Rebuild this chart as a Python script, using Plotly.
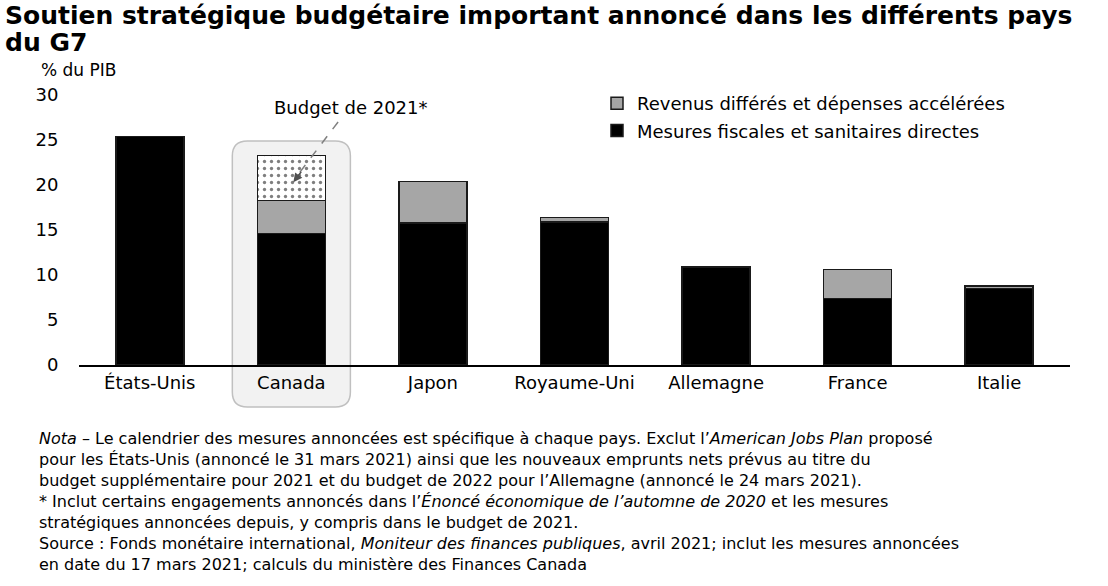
import plotly.graph_objects as go

countries = ["États-Unis", "Canada", "Japon", "Royaume-Uni", "Allemagne", "France", "Italie"]
direct = [25.4, 14.6, 15.8, 15.9, 10.9, 7.4, 8.5]
deferred = [0, 3.7, 4.6, 0.5, 0, 3.2, 0.3]
budget2021 = [None, 5.0, None, None, None, None, None]
yticks = [0, 5, 10, 15, 20, 25, 30]

name_direct = "Mesures fiscales et sanitaires directes"
name_deferred = "Revenus différés et dépenses accélérées"

FONT = "DejaVu Sans"
W, H = 1108, 586
L, R, T, B = 79, 38, 95, 221
PW, PH = W - L - R, H - T - B

def px2paper_x(px):
    return (px - L) / PW

def px2paper_y(py):
    return (H - B - py) / PH

fig = go.Figure()
fig.add_trace(go.Bar(x=countries, y=direct, name=name_direct, legendgroup="a", legendrank=2,
                     marker=dict(color="#000000", line=dict(color="#1a1a1a", width=1.5)),
                     width=0.48))
fig.add_trace(go.Bar(x=countries, y=deferred, name=name_deferred, legendgroup="b", legendrank=1,
                     marker=dict(color="#a6a6a6", line=dict(color="#1a1a1a", width=1.5)),
                     width=0.48))
fig.add_trace(go.Bar(x=countries, y=budget2021, name="Budget de 2021*", showlegend=False,
                     marker=dict(color="#ffffff", line=dict(color="#1a1a1a", width=1.5),
                                 pattern=dict(shape=".", fgcolor="#000000", bgcolor="#ffffff",
                                              size=7, solidity=0.18)),
                     width=0.48))

# Canada highlight rounded box (x in data, y in paper)
x0, x1 = 1 - 0.417, 1 + 0.417
y0, y1 = px2paper_y(407), px2paper_y(141)
rx, ry = 15 / (PW / 7), 15 / PH
path = (f"M {x0+rx},{y0} L {x1-rx},{y0} Q {x1},{y0} {x1},{y0+ry} "
        f"L {x1},{y1-ry} Q {x1},{y1} {x1-rx},{y1} L {x0+rx},{y1} Q {x0},{y1} {x0},{y1-ry} "
        f"L {x0},{y0+ry} Q {x0},{y0} {x0+rx},{y0} Z")
fig.add_shape(type="path", path=path, xref="x", yref="paper", layer="below",
              fillcolor="#f2f2f2", line=dict(color="#c0c0c0", width=1.5))

# dashed pointer
fig.add_shape(type="line", xref="x", yref="y", x0=1.33, y0=27.0, x1=1.03, y1=20.8,
              line=dict(color="#808080", width=1.5, dash="dash"))
fig.add_annotation(x=1.014, y=20.3, xref="x", yref="y", text="", showarrow=True,
                   arrowhead=2, arrowsize=1.2, arrowwidth=1.5, arrowcolor="#505050",
                   ax=9, ay=-12)
fig.add_annotation(x=1.424, y=28.6, xref="x", yref="y", text="Budget de 2021*", showarrow=False,
                   font=dict(family=FONT, size=18, color="#000000"))

fig.add_annotation(x=px2paper_x(39), y=px2paper_y(70), xref="paper", yref="paper",
                   xanchor="left", yanchor="middle", text="% du PIB", showarrow=False,
                   font=dict(family=FONT, size=17, color="#000000"))

title_lines = [
    (15, "<b>Soutien stratégique budgétaire important annoncé dans les différents pays</b>"),
    (43, "<b>du G7</b>"),
]
for py, txt in title_lines:
    fig.add_annotation(x=px2paper_x(3), y=px2paper_y(py), xref="paper", yref="paper",
                       xanchor="left", yanchor="middle", text=txt, showarrow=False,
                       font=dict(family=FONT, size=25, color="#000000"))

notes = [
    (428, "<i>Nota</i> – Le calendrier des mesures annoncées est spécifique à chaque pays. Exclut l’<i>American Jobs Plan</i> proposé<br>"
          "pour les États-Unis (annoncé le 31 mars 2021) ainsi que les nouveaux emprunts nets prévus au titre du<br>"
          "budget supplémentaire pour 2021 et du budget de 2022 pour l’Allemagne (annoncé le 24 mars 2021)."),
    (491, "* Inclut certains engagements annoncés dans l’<i>Énoncé économique de l’automne de 2020</i> et les mesures<br>"
          "stratégiques annoncées depuis, y compris dans le budget de 2021."),
    (533, "Source : Fonds monétaire international, <i>Moniteur des finances publiques</i>, avril 2021; inclut les mesures annoncées<br>"
          "en date du 17 mars 2021; calculs du ministère des Finances Canada"),
]
for py, txt in notes:
    fig.add_annotation(x=px2paper_x(38), y=px2paper_y(py), xref="paper", yref="paper",
                       xanchor="left", yanchor="top", align="left", text=txt, showarrow=False,
                       borderpad=0, font=dict(family=FONT, size=16, color="#000000"))

fig.update_layout(
    width=W, height=H,
    margin=dict(l=L, r=R, t=T, b=B),
    barmode="stack",
    plot_bgcolor="#ffffff", paper_bgcolor="#ffffff",
    font=dict(family=FONT, size=17, color="#000000"),
    legend=dict(x=px2paper_x(597), y=px2paper_y(85), xanchor="left", yanchor="top",
                traceorder="grouped", tracegroupgap=1, bgcolor="rgba(0,0,0,0)",
                font=dict(family=FONT, size=18, color="#000000"), itemwidth=30),
    showlegend=True,
)
fig.update_xaxes(showline=True, linecolor="#000000", linewidth=2, ticks="", showgrid=False,
                 range=[-0.5, 6.5], tickfont=dict(family=FONT, size=18))
fig.update_yaxes(range=[0, 30], tickvals=yticks, showgrid=False, zeroline=False, showline=False,
                 ticks="outside", ticklen=16, tickcolor="rgba(0,0,0,0)",
                 tickfont=dict(family=FONT, size=18))

fig.write_html("out.html")
